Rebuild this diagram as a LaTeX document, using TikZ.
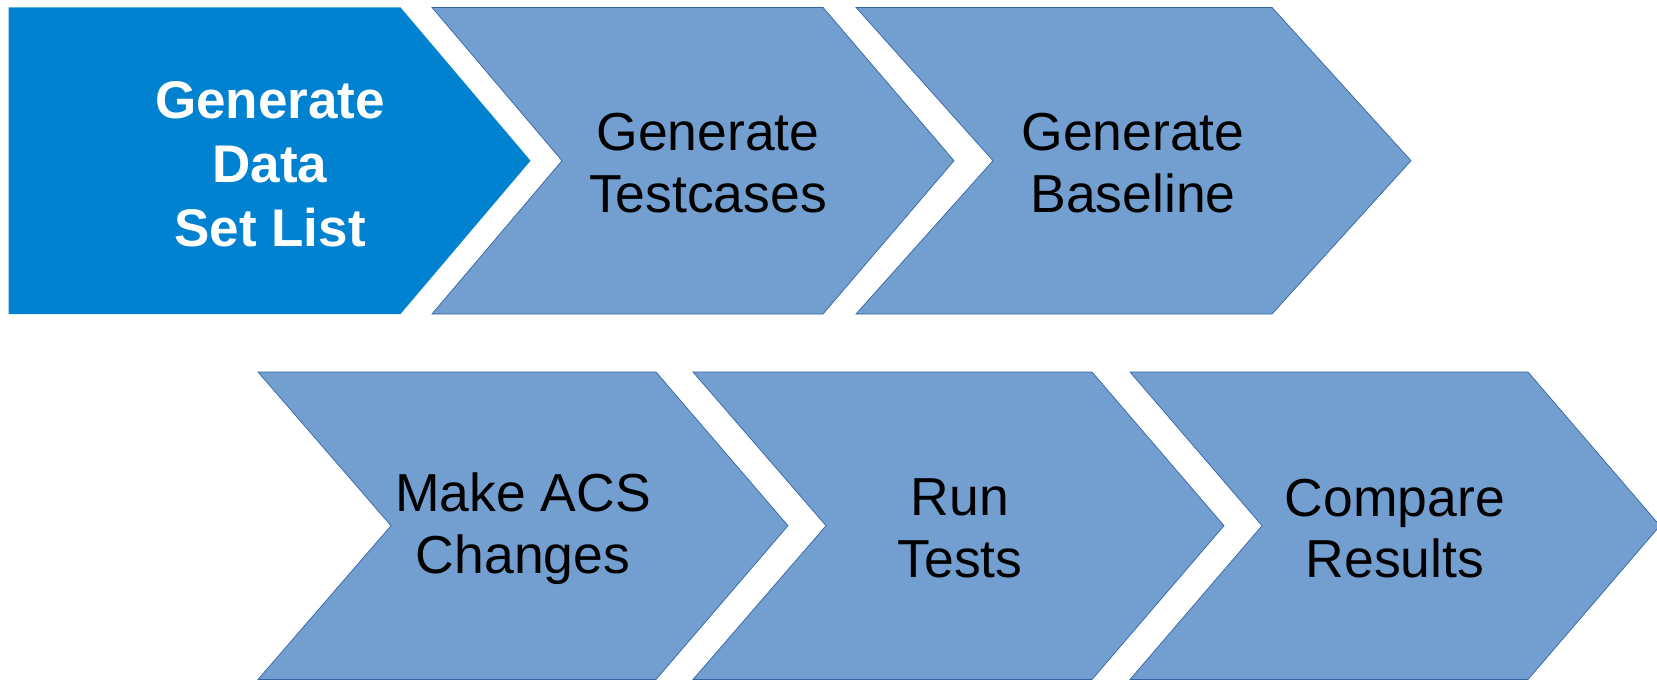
\documentclass[tikz,border=0pt]{standalone}
\usepackage{fontspec}
\setmainfont{Liberation Sans}
\definecolor{darkstep}{HTML}{0082D0}
\definecolor{lightstep}{HTML}{729FCF}
\definecolor{stepedge}{HTML}{3465A4}
\begin{document}
\begin{tikzpicture}[x=1pt,y=-1pt,
  firstchev/.style={fill=darkstep,draw=none},
  chev/.style={fill=lightstep,draw=stepedge,line width=0.7pt,line join=miter},
  steplabel/.style={align=center,font=\fontsize{53.5}{61.5}\selectfont,text=black,inner sep=0pt},
  firstlabel/.style={align=center,font=\fontsize{53}{64}\selectfont\bfseries,text=white,inner sep=0pt}]
\useasboundingbox (0,0) rectangle (1657,680);
% row 1
\path[firstchev] (8.5,7.4) -- (400.5,7.4) -- (530.5,160.7) -- (400.5,314) -- (8.5,314) -- cycle;
\path[chev] (432,7.4) -- (823,7.4) -- (954,160.7) -- (823,314) -- (432,314) -- (562,160.7) -- cycle;
\path[chev] (856,7.4) -- (1272,7.4) -- (1411,160.7) -- (1272,314) -- (856,314) -- (993,160.7) -- cycle;
% row 2
\path[chev] (258,372) -- (656,372) -- (788,525.7) -- (656,679.5) -- (258,679.5) -- (391,525.7) -- cycle;
\path[chev] (693,372) -- (1092,372) -- (1224,525.7) -- (1092,679.5) -- (693,679.5) -- (826,525.7) -- cycle;
\path[chev] (1130,372) -- (1528,372) -- (1660,525.7) -- (1528,679.5) -- (1130,679.5) -- (1262,525.7) -- cycle;
% labels
\node[firstlabel] (s1) at (270,164) {Generate\\Data\\Set List};
\node[steplabel] (s2) at (708,163) {Generate\\Testcases};
\node[steplabel] (s3) at (1133,163) {Generate\\Baseline};
\node[steplabel] (s4) at (523,528.5) {Make ACS\\Changes};
\node[steplabel] (s5) at (960,528.5) {Run\\Tests};
\node[steplabel] (s6) at (1395,528.5) {Compare\\Results};
\end{tikzpicture}
\end{document}
